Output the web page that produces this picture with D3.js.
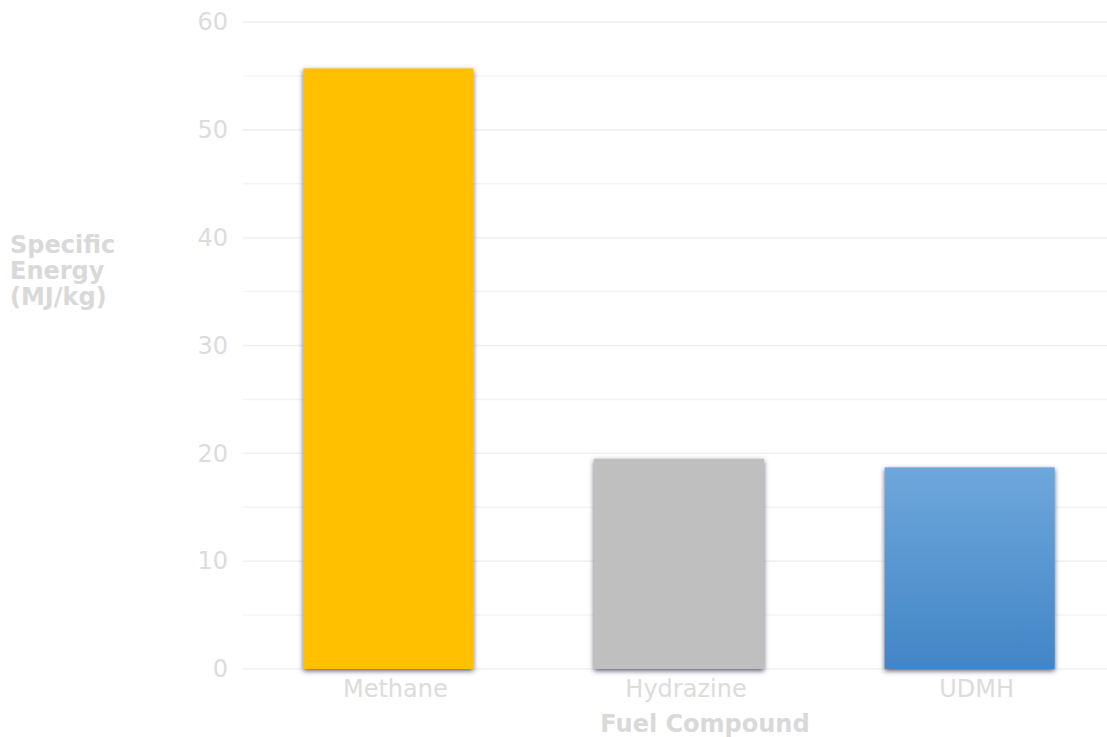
<!DOCTYPE html>
<html>
<head>
<meta charset="utf-8">
<script src="https://cdn.jsdelivr.net/npm/d3@7"></script>
<style>
  html, body { margin: 0; padding: 0; background: #fff; }
  svg { display: block; font-family: "DejaVu Sans", sans-serif; }
</style>
</head>
<body>
<svg id="chart" width="1107" height="737"></svg>
<script>
// Specific energy of common rocket fuels
const fuels = ["Methane", "Hydrazine", "UDMH"];
const specificEnergy = [55.7, 19.5, 18.7];
const yTicks = [0, 10, 20, 30, 40, 50, 60];
const minorTicks = [5, 15, 25, 35, 45, 55];

const svg = d3.select("#chart");
const margin = { top: 22, bottom: 68, left: 243, right: -8 };
const W = 1107, H = 737;

const x = d3.scaleBand()
  .domain(fuels)
  .range([margin.left, W - margin.right])
  .paddingInner(0.415)
  .paddingOuter(0.2075);

const y = d3.scaleLinear()
  .domain([0, 60])
  .range([H - margin.bottom, margin.top]);

const defs = svg.append("defs");
const shadow = defs.append("filter").attr("id", "barShadow")
  .attr("x", "-10%").attr("y", "-5%").attr("width", "120%").attr("height", "115%");
shadow.append("feDropShadow")
  .attr("dx", 0).attr("dy", 2).attr("stdDeviation", 2.8)
  .attr("flood-color", "#4a3f58").attr("flood-opacity", 0.85);

const blueGrad = defs.append("linearGradient").attr("id", "blueFill")
  .attr("x1", 0).attr("y1", 0).attr("x2", 0).attr("y2", 1);
blueGrad.append("stop").attr("offset", "0%").attr("stop-color", "#6ea7db");
blueGrad.append("stop").attr("offset", "100%").attr("stop-color", "#4285c6");

const fills = ["#ffc000", "#bfbfbf", "url(#blueFill)"];

// Gridlines
const grid = svg.append("g");
grid.selectAll("line.major").data(yTicks).join("line")
  .attr("x1", margin.left).attr("x2", W)
  .attr("y1", d => y(d)).attr("y2", d => y(d))
  .attr("stroke", "#efefef").attr("stroke-width", 1.5);
grid.selectAll("line.minor").data(minorTicks).join("line")
  .attr("x1", margin.left).attr("x2", W)
  .attr("y1", d => y(d)).attr("y2", d => y(d))
  .attr("stroke", "#f4f4f4").attr("stroke-width", 1.5);

// Y axis tick labels
const yAxis = svg.append("g")
  .attr("transform", `translate(${margin.left},0)`)
  .call(d3.axisLeft(y).tickValues(yTicks).tickSize(0).tickPadding(15));
yAxis.select(".domain").remove();
yAxis.selectAll("text")
  .attr("font-size", 24).attr("fill", "#dcdcdc")
  .attr("font-family", "DejaVu Sans, sans-serif");

// Bars
svg.append("g").selectAll("rect").data(fuels).join("rect")
  .attr("x", d => x(d))
  .attr("y", (d, i) => y(specificEnergy[i]))
  .attr("width", x.bandwidth())
  .attr("height", (d, i) => y(0) - y(specificEnergy[i]))
  .attr("fill", (d, i) => fills[i])
  .attr("filter", "url(#barShadow)");

// X axis labels (sit slightly right of the bar centres)
const xAxis = svg.append("g")
  .attr("transform", `translate(7,${y(0)})`)
  .call(d3.axisBottom(x).tickSize(0).tickPadding(11));
xAxis.select(".domain").remove();
xAxis.selectAll("text")
  .attr("font-size", 24).attr("fill", "#dcdcdc")
  .attr("font-family", "DejaVu Sans, sans-serif");

// Axis titles
svg.append("text")
  .attr("x", 705).attr("y", 732)
  .attr("text-anchor", "middle")
  .attr("font-size", 24).attr("font-weight", "bold").attr("fill", "#d9d9d9")
  .text("Fuel Compound");

const yTitle = svg.append("text")
  .attr("x", 10).attr("y", 253)
  .attr("font-size", 24).attr("font-weight", "bold").attr("fill", "#d9d9d9");
["Specific", "Energy", "(MJ/kg)"].forEach((t, i) => {
  yTitle.append("tspan").attr("x", 10).attr("dy", i === 0 ? 0 : 26).text(t);
});
</script>
</body>
</html>
